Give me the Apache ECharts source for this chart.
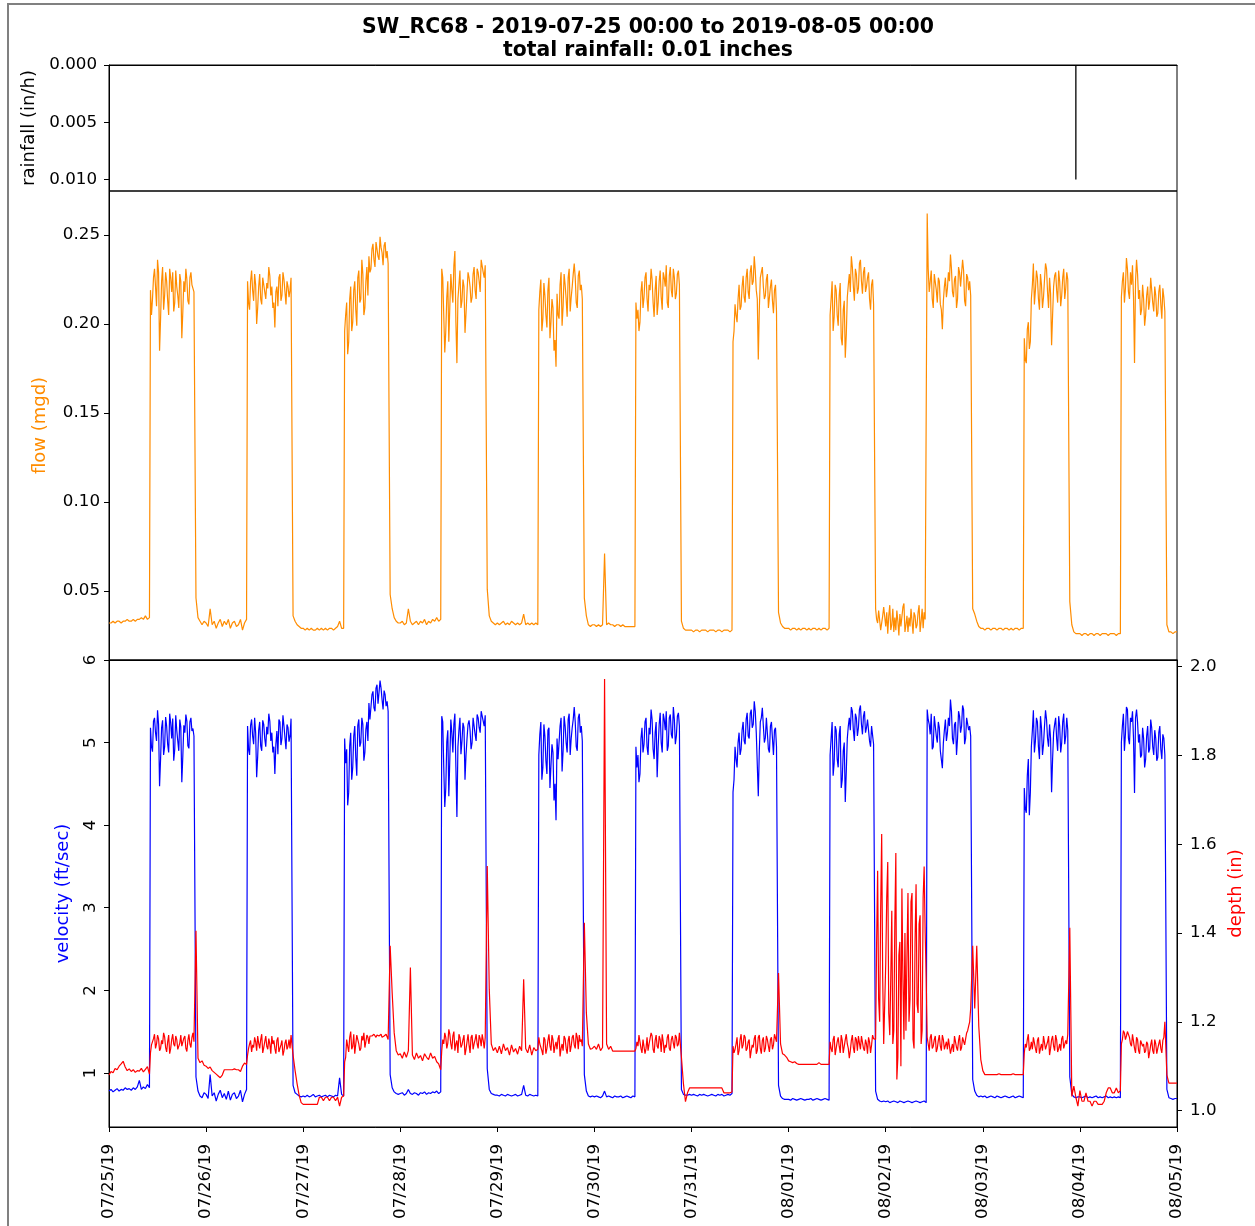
<!DOCTYPE html>
<html><head><meta charset="utf-8">
<script src="https://cdn.jsdelivr.net/npm/echarts@6/dist/echarts.min.js"></script>
<style>html,body{margin:0;padding:0;background:#fff}#c{width:1255px;height:1226px}</style>
</head><body><div id="c"></div>
<script>
const titleLine1 = 'SW_RC68 - 2019-07-25 00:00 to 2019-08-05 00:00';
const titleLine2 = 'total rainfall: 0.01 inches';
const xTickHours = [0,24,48,72,96,120,144,168,192,216,240,264];
const xTickLabels = ['07/25/19','07/26/19','07/27/19','07/28/19','07/29/19','07/30/19','07/31/19','08/01/19','08/02/19','08/03/19','08/04/19','08/05/19'];
const rainTicks = [0, 0.005, 0.010];
const flowTicks = [0.05, 0.10, 0.15, 0.20, 0.25];
const velocityTicks = [1, 2, 3, 4, 5, 6];
const depthTicks = [1.0, 1.2, 1.4, 1.6, 1.8, 2.0];

// rainfall (in/h): hour since 07/25 00:00
const rainHours = [239];
const rainValues = [0.01];

// One row per day. *Low: samples spread evenly over 00:00-10:00. *High: 10:15-21:00 every 15 min.
// *Tail: samples spread evenly over 21:30-23:30.
const flowLow = [
 [0.032,0.032,0.033,0.032,0.033,0.033,0.032,0.033,0.033,0.034,0.033,0.033,0.034,0.033,0.034,0.034,0.035,0.034,0.036,0.034,0.035],
 [0.032,0.030,0.040,0.031,0.033,0.029,0.032,0.034,0.030,0.033,0.031,0.034,0.029,0.032,0.033,0.030,0.031,0.034,0.028,0.032,0.034],
 [0.029,0.028,0.029,0.028,0.029,0.028,0.028,0.029,0.028,0.029,0.028,0.029,0.028,0.029,0.029,0.028,0.029,0.030,0.033,0.029,0.029],
 [0.032,0.033,0.031,0.032,0.040,0.033,0.031,0.032,0.033,0.031,0.033,0.032,0.034,0.031,0.033,0.032,0.034,0.033,0.035,0.033,0.034],
 [0.032,0.031,0.032,0.033,0.031,0.032,0.031,0.033,0.032,0.031,0.032,0.031,0.032,0.037,0.031,0.032,0.031,0.032,0.031,0.032,0.031],
 [0.031,0.030,0.031,0.030,0.031,0.071,0.031,0.032,0.031,0.031,0.030,0.031,0.031,0.030,0.031,0.030,0.030,0.030,0.030,0.030,0.030],
 [0.028,0.027,0.028,0.028,0.027,0.028,0.028,0.028,0.027,0.028,0.028,0.028,0.027,0.028,0.028,0.027,0.028,0.028,0.028,0.027,0.028],
 [0.029,0.028,0.029,0.029,0.028,0.029,0.028,0.029,0.029,0.028,0.029,0.028,0.029,0.029,0.028,0.029,0.028,0.029,0.029,0.028,0.029],
 [0.030,0.038,0.026,0.036,0.042,0.028,0.031,0.040,0.027,0.035,0.028,0.039,0.033,0.025,0.037,0.030,0.029,0.041,0.043,0.027,0.031,
  0.036,0.027,0.035,0.030,0.040,0.033,0.026,0.038,0.036,0.029,0.031,0.038,0.042,0.027,0.033,0.040,0.029,0.038,0.034,0.033],
 [0.029,0.028,0.029,0.029,0.028,0.029,0.029,0.028,0.029,0.029,0.028,0.029,0.029,0.028,0.029,0.028,0.029,0.029,0.028,0.029,0.029],
 [0.026,0.025,0.026,0.026,0.025,0.026,0.026,0.025,0.026,0.026,0.025,0.026,0.026,0.026,0.025,0.026,0.026,0.026,0.025,0.026,0.026]
];
const flowHigh = [
 [0.219,0.205,0.214,0.226,0.231,0.221,0.210,0.236,0.229,0.185,0.203,0.224,0.232,0.208,0.216,0.229,0.224,0.213,0.205,0.231,0.226,0.218,0.229,0.207,0.212,0.230,0.221,0.216,0.209,0.228,0.224,0.192,0.207,0.224,0.218,0.231,0.225,0.213,0.211,0.226,0.229,0.222,0.223,0.218],
 [0.224,0.212,0.208,0.224,0.230,0.219,0.213,0.228,0.222,0.200,0.209,0.221,0.228,0.214,0.211,0.226,0.225,0.218,0.214,0.223,0.220,0.232,0.227,0.216,0.221,0.209,0.212,0.198,0.218,0.221,0.210,0.226,0.228,0.213,0.216,0.229,0.225,0.218,0.211,0.224,0.221,0.215,0.219,0.226],
 [0.196,0.205,0.212,0.183,0.190,0.214,0.221,0.196,0.201,0.219,0.224,0.208,0.199,0.226,0.230,0.212,0.214,0.236,0.228,0.205,0.209,0.224,0.232,0.216,0.238,0.229,0.231,0.242,0.245,0.236,0.232,0.246,0.247,0.238,0.236,0.249,0.243,0.240,0.233,0.244,0.246,0.237,0.241,0.234],
 [0.231,0.226,0.205,0.184,0.196,0.215,0.224,0.190,0.210,0.228,0.219,0.212,0.233,0.241,0.201,0.178,0.214,0.222,0.230,0.209,0.213,0.225,0.221,0.195,0.206,0.218,0.229,0.226,0.221,0.212,0.215,0.228,0.232,0.219,0.214,0.231,0.229,0.224,0.218,0.236,0.235,0.229,0.226,0.233],
 [0.208,0.218,0.225,0.196,0.203,0.223,0.216,0.205,0.198,0.219,0.226,0.192,0.201,0.214,0.209,0.185,0.191,0.176,0.217,0.205,0.203,0.222,0.229,0.199,0.210,0.228,0.222,0.214,0.204,0.226,0.231,0.207,0.215,0.221,0.228,0.234,0.226,0.212,0.209,0.227,0.230,0.219,0.222,0.214],
 [0.212,0.203,0.208,0.196,0.201,0.218,0.224,0.209,0.215,0.226,0.229,0.214,0.207,0.222,0.219,0.231,0.225,0.212,0.204,0.219,0.227,0.205,0.212,0.224,0.230,0.215,0.208,0.229,0.226,0.221,0.233,0.212,0.209,0.227,0.232,0.219,0.215,0.231,0.226,0.214,0.217,0.228,0.230,0.222],
 [0.190,0.196,0.211,0.205,0.201,0.214,0.222,0.208,0.210,0.221,0.227,0.215,0.212,0.226,0.231,0.218,0.214,0.229,0.233,0.222,0.224,0.238,0.230,0.219,0.214,0.180,0.208,0.226,0.227,0.232,0.221,0.214,0.216,0.225,0.228,0.209,0.210,0.221,0.225,0.213,0.206,0.219,0.222,0.207],
 [0.205,0.214,0.224,0.196,0.204,0.222,0.219,0.205,0.199,0.216,0.223,0.192,0.188,0.208,0.213,0.181,0.194,0.215,0.222,0.228,0.218,0.238,0.232,0.221,0.213,0.231,0.228,0.217,0.220,0.234,0.236,0.224,0.217,0.229,0.232,0.218,0.221,0.226,0.229,0.214,0.208,0.222,0.225,0.211],
 [0.262,0.231,0.218,0.224,0.230,0.214,0.209,0.228,0.228,0.219,0.212,0.226,0.224,0.211,0.208,0.197,0.213,0.221,0.226,0.215,0.220,0.229,0.224,0.239,0.231,0.218,0.215,0.225,0.227,0.209,0.214,0.232,0.229,0.221,0.222,0.236,0.230,0.213,0.210,0.228,0.226,0.219,0.224,0.216],
 [0.192,0.180,0.178,0.197,0.201,0.186,0.190,0.214,0.222,0.234,0.211,0.219,0.230,0.226,0.214,0.208,0.228,0.222,0.209,0.215,0.225,0.234,0.231,0.218,0.209,0.226,0.217,0.188,0.205,0.221,0.227,0.229,0.219,0.212,0.230,0.224,0.210,0.216,0.226,0.231,0.214,0.220,0.229,0.225],
 [0.215,0.224,0.229,0.212,0.220,0.237,0.231,0.218,0.214,0.229,0.222,0.233,0.215,0.178,0.224,0.236,0.228,0.214,0.219,0.205,0.208,0.222,0.214,0.199,0.205,0.216,0.221,0.208,0.213,0.226,0.219,0.212,0.207,0.221,0.216,0.204,0.206,0.218,0.222,0.211,0.203,0.220,0.215,0.207]
];
const flowTail = [
 [0.046,0.035,0.033,0.031,0.033],
 [0.036,0.033,0.031,0.030,0.029],
 [0.048,0.040,0.035,0.033,0.032],
 [0.051,0.036,0.033,0.032,0.031],
 [0.046,0.036,0.031,0.030,0.031],
 [0.033,0.029,0.028,0.028,0.028],
 [0.038,0.032,0.030,0.029,0.029],
 [0.040,0.034,0.032,0.039,0.038,0.028,0.027,0.036,0.041],
 [0.040,0.037,0.033,0.030,0.029],
 [0.044,0.031,0.027,0.026,0.026],
 [0.031,0.027,0.027,0.026,0.027]
];
const flowEnd = [0.027];

const velocityLow = [
 [0.78,0.80,0.77,0.79,0.81,0.78,0.80,0.79,0.82,0.80,0.81,0.79,0.82,0.80,0.83,0.91,0.80,0.83,0.81,0.86,0.82],
 [0.74,0.69,0.98,0.72,0.76,0.66,0.74,0.79,0.70,0.75,0.68,0.78,0.67,0.74,0.76,0.69,0.72,0.79,0.65,0.74,0.80],
 [0.72,0.71,0.73,0.71,0.72,0.74,0.71,0.72,0.73,0.71,0.72,0.73,0.71,0.73,0.72,0.71,0.73,0.72,0.94,0.74,0.72],
 [0.75,0.76,0.73,0.75,0.80,0.75,0.74,0.76,0.75,0.73,0.76,0.75,0.77,0.74,0.76,0.75,0.77,0.76,0.78,0.75,0.77],
 [0.73,0.72,0.74,0.73,0.72,0.74,0.73,0.72,0.73,0.74,0.72,0.73,0.74,0.85,0.73,0.72,0.74,0.73,0.72,0.73,0.72],
 [0.71,0.72,0.71,0.70,0.72,0.78,0.71,0.72,0.71,0.70,0.72,0.71,0.71,0.72,0.70,0.71,0.72,0.71,0.70,0.72,0.71],
 [0.73,0.74,0.73,0.72,0.74,0.73,0.74,0.73,0.72,0.73,0.74,0.73,0.72,0.74,0.73,0.74,0.72,0.73,0.74,0.73,0.75],
 [0.68,0.67,0.69,0.68,0.67,0.68,0.69,0.68,0.67,0.68,0.68,0.69,0.67,0.68,0.69,0.68,0.67,0.68,0.69,0.68,0.67],
 [0.65,0.66,0.64,0.65,0.66,0.65,0.64,0.66,0.65,0.64,0.65,0.66,0.65,0.64,0.65,0.66,0.65,0.64,0.65,0.66,0.64],
 [0.71,0.72,0.70,0.71,0.72,0.71,0.70,0.72,0.71,0.70,0.71,0.72,0.71,0.70,0.71,0.72,0.70,0.71,0.72,0.71,0.70],
 [0.71,0.70,0.71,0.72,0.70,0.71,0.70,0.71,0.72,0.70,0.71,0.70,0.71,0.72,0.70,0.71,0.70,0.71,0.70,0.71,0.70]
];
const velocityHigh = [
 [5.18,4.95,4.89,5.26,5.30,5.12,5.02,5.39,5.22,4.47,4.80,5.18,5.27,4.85,4.95,5.31,5.20,4.98,4.88,5.35,5.24,5.05,5.29,4.78,4.92,5.33,5.15,5.02,4.90,5.28,5.19,4.52,4.84,5.21,5.12,5.34,5.26,4.96,4.93,5.25,5.30,5.14,5.17,5.08],
 [5.20,4.92,4.85,5.21,5.28,5.08,4.98,5.30,5.12,4.58,4.83,5.15,5.25,4.96,4.90,5.27,5.22,5.05,4.95,5.19,5.10,5.35,5.26,5.02,5.12,4.88,4.95,4.62,4.98,5.14,4.86,5.28,5.25,4.97,5.05,5.33,5.20,5.06,4.92,5.22,5.18,5.01,5.08,5.29],
 [5.05,4.75,4.92,4.24,4.40,4.96,5.12,4.55,4.70,5.08,5.20,4.82,4.60,5.21,5.28,4.95,5.00,5.30,5.22,4.78,4.88,5.16,5.25,5.02,5.48,5.28,5.30,5.58,5.62,5.42,5.38,5.66,5.70,5.47,5.45,5.75,5.66,5.52,5.40,5.63,5.58,5.44,5.50,5.38],
 [5.32,5.25,4.70,4.22,4.45,5.01,5.15,4.35,4.80,5.28,5.12,4.88,5.22,5.35,4.70,4.10,4.95,5.15,5.30,4.86,5.02,5.24,5.18,4.55,4.85,5.05,5.22,5.27,5.15,4.92,5.00,5.30,5.28,5.10,5.02,5.34,5.30,5.18,5.12,5.38,5.36,5.26,5.20,5.33],
 [4.85,5.10,5.25,4.55,4.70,5.22,5.08,4.78,4.62,5.15,5.18,4.45,4.72,4.98,4.88,4.30,4.50,4.06,5.05,4.80,4.78,5.20,5.30,4.65,4.90,5.32,5.20,5.00,4.88,5.28,5.35,4.85,5.05,5.18,5.28,5.43,5.25,4.95,4.90,5.30,5.35,5.12,5.20,5.02],
 [4.95,4.70,4.85,4.52,4.62,5.05,5.18,4.88,4.98,5.25,5.30,4.95,4.85,5.18,5.10,5.40,5.28,4.92,4.80,5.12,5.25,4.58,4.95,5.22,5.36,5.00,4.88,5.35,5.28,5.15,5.38,4.90,4.96,5.30,5.34,5.10,5.05,5.43,5.28,4.98,5.08,5.32,5.36,5.20],
 [4.40,4.55,4.95,4.80,4.70,5.00,5.12,4.85,4.92,5.15,5.25,5.02,4.98,5.28,5.36,5.08,5.05,5.35,5.40,5.18,5.22,5.50,5.38,5.12,5.10,4.35,4.90,5.25,5.30,5.42,5.20,5.00,5.06,5.30,5.32,4.92,4.88,5.20,5.25,5.05,4.85,5.15,5.18,4.95],
 [4.85,5.05,5.25,4.60,4.75,5.20,5.15,4.80,4.70,5.10,5.20,4.45,4.55,4.90,5.00,4.28,4.65,5.05,5.20,5.30,5.15,5.43,5.38,5.15,5.02,5.35,5.30,5.08,5.18,5.40,5.45,5.22,5.10,5.32,5.38,5.12,5.18,5.28,5.30,5.02,4.95,5.20,5.22,4.98],
 [5.40,5.28,5.22,5.10,5.35,4.92,4.95,5.32,5.30,5.08,5.00,5.25,5.18,4.90,4.92,4.69,5.00,5.15,5.28,5.02,5.12,5.30,5.20,5.52,5.38,5.05,4.98,5.22,5.25,4.85,5.05,5.38,5.32,5.12,5.20,5.45,5.40,4.98,5.05,5.30,5.28,5.15,5.20,5.08],
 [4.45,4.20,4.15,4.60,4.80,4.12,4.40,4.95,5.15,5.39,4.88,5.02,5.30,5.25,4.95,4.80,5.32,5.18,4.85,4.98,5.20,5.39,5.28,5.05,4.95,5.22,5.05,4.40,4.80,5.12,5.22,5.30,5.05,4.90,5.32,5.20,4.88,5.00,5.25,5.35,4.98,5.08,5.30,5.15],
 [5.00,5.20,5.35,4.90,5.10,5.43,5.40,5.05,4.98,5.30,5.25,5.38,5.05,4.39,5.30,5.40,5.25,5.00,5.10,4.82,4.85,5.18,5.05,4.70,4.80,5.08,5.20,4.88,4.92,5.28,5.18,4.95,4.85,5.15,5.05,4.78,4.82,5.12,5.20,4.92,4.80,5.10,5.05,4.85]
];
const velocityTail = [
 [0.95,0.78,0.72,0.70,0.76],
 [0.85,0.76,0.74,0.72,0.71],
 [0.98,0.82,0.77,0.75,0.74],
 [1.05,0.80,0.75,0.74,0.73],
 [0.98,0.78,0.72,0.71,0.72],
 [0.80,0.74,0.73,0.73,0.74],
 [0.85,0.72,0.69,0.68,0.68],
 [0.78,0.68,0.66,0.65,0.66],
 [0.92,0.78,0.73,0.71,0.72],
 [0.95,0.74,0.71,0.70,0.71],
 [0.80,0.70,0.69,0.68,0.69]
];
const velocityEnd = [0.69];

const depthLow = [
 [1.080,1.088,1.085,1.095,1.092,1.100,1.105,1.111,1.098,1.090,1.094,1.088,1.092,1.086,1.090,1.089,1.095,1.087,1.093,1.099,1.082],
 [1.100,1.095,1.098,1.090,1.086,1.082,1.078,1.074,1.080,1.092,1.092,1.092,1.092,1.092,1.094,1.092,1.092,1.088,1.100,1.107,1.104],
 [1.014,1.014,1.014,1.014,1.014,1.014,1.014,1.014,1.030,1.030,1.022,1.030,1.030,1.022,1.030,1.030,1.022,1.030,1.010,1.030,1.033],
 [1.128,1.118,1.132,1.120,1.135,1.322,1.125,1.115,1.130,1.118,1.124,1.112,1.128,1.120,1.115,1.130,1.118,1.122,1.110,1.105,1.092],
 [1.130,1.145,1.128,1.150,1.135,1.142,1.125,1.148,1.132,1.140,1.127,1.145,1.135,1.296,1.140,1.130,1.148,1.125,1.142,1.135,1.138],
 [1.145,1.138,1.150,1.135,1.142,1.972,1.150,1.138,1.145,1.134,1.134,1.134,1.134,1.134,1.134,1.134,1.134,1.134,1.134,1.134,1.134],
 [1.051,1.051,1.051,1.051,1.051,1.051,1.051,1.051,1.051,1.051,1.051,1.051,1.051,1.051,1.051,1.051,1.040,1.040,1.040,1.040,1.042],
 [1.112,1.110,1.108,1.110,1.106,1.104,1.104,1.104,1.104,1.104,1.104,1.104,1.104,1.104,1.104,1.108,1.104,1.104,1.104,1.104,1.104],
 [1.330,1.480,1.560,1.220,1.170,1.300,1.450,1.150,1.180,1.420,1.580,1.070,1.120,1.350,1.380,1.100,1.500,1.300,1.160,1.400,1.180,
  1.350,1.490,1.200,1.250,1.470,1.490,1.160,1.140,1.380,1.510,1.240,1.220,1.420,1.440,1.150,1.180,1.480,1.550,1.400,1.300],
 [1.090,1.081,1.081,1.081,1.081,1.081,1.081,1.081,1.083,1.081,1.081,1.081,1.081,1.081,1.081,1.083,1.081,1.081,1.081,1.081,1.081],
 [1.045,1.021,1.021,1.040,1.021,1.021,1.010,1.021,1.021,1.014,1.014,1.014,1.021,1.040,1.051,1.051,1.040,1.040,1.051,1.040,1.045]
];
const depthHigh = [
 [1.130,1.148,1.145,1.162,1.172,1.140,1.150,1.170,1.162,1.135,1.140,1.158,1.150,1.175,1.166,1.142,1.132,1.155,1.170,1.128,1.140,1.160,1.172,1.150,1.145,1.168,1.160,1.138,1.135,1.152,1.170,1.145,1.142,1.163,1.168,1.140,1.133,1.158,1.172,1.150,1.142,1.165,1.175,1.155],
 [1.125,1.140,1.150,1.158,1.132,1.148,1.142,1.165,1.155,1.135,1.168,1.152,1.140,1.160,1.172,1.130,1.142,1.155,1.168,1.145,1.138,1.162,1.150,1.128,1.168,1.150,1.158,1.140,1.128,1.158,1.165,1.132,1.140,1.148,1.158,1.124,1.135,1.152,1.160,1.138,1.145,1.160,1.140,1.170],
 [1.110,1.120,1.160,1.145,1.132,1.165,1.178,1.138,1.145,1.172,1.128,1.150,1.170,1.160,1.150,1.135,1.140,1.168,1.158,1.175,1.142,1.155,1.170,1.165,1.150,1.168,1.172,1.168,1.165,1.172,1.168,1.165,1.170,1.168,1.168,1.170,1.172,1.165,1.168,1.168,1.165,1.172,1.168,1.160],
 [1.135,1.160,1.150,1.175,1.165,1.140,1.152,1.183,1.172,1.150,1.138,1.168,1.178,1.135,1.150,1.158,1.130,1.172,1.165,1.142,1.148,1.160,1.170,1.125,1.138,1.155,1.172,1.148,1.130,1.165,1.170,1.138,1.150,1.160,1.172,1.150,1.140,1.170,1.162,1.145,1.172,1.158,1.140,1.165],
 [1.165,1.150,1.148,1.135,1.125,1.165,1.160,1.128,1.140,1.158,1.172,1.145,1.135,1.170,1.160,1.130,1.145,1.155,1.138,1.162,1.170,1.122,1.140,1.150,1.135,1.168,1.162,1.140,1.128,1.158,1.168,1.132,1.145,1.165,1.170,1.148,1.140,1.175,1.165,1.138,1.170,1.155,1.160,1.145],
 [1.140,1.155,1.145,1.170,1.172,1.140,1.130,1.160,1.162,1.128,1.140,1.165,1.135,1.150,1.148,1.175,1.168,1.138,1.130,1.158,1.170,1.145,1.140,1.168,1.160,1.132,1.172,1.155,1.130,1.148,1.142,1.165,1.172,1.140,1.135,1.160,1.168,1.152,1.140,1.170,1.165,1.145,1.150,1.175],
 [1.145,1.130,1.138,1.150,1.165,1.125,1.135,1.160,1.172,1.140,1.148,1.170,1.165,1.135,1.140,1.155,1.160,1.118,1.135,1.148,1.142,1.162,1.170,1.128,1.135,1.165,1.170,1.140,1.128,1.158,1.165,1.132,1.140,1.168,1.160,1.145,1.132,1.160,1.165,1.138,1.148,1.172,1.170,1.155],
 [1.155,1.140,1.132,1.160,1.168,1.125,1.140,1.155,1.165,1.145,1.130,1.170,1.158,1.130,1.145,1.160,1.172,1.150,1.140,1.118,1.135,1.158,1.170,1.142,1.130,1.165,1.160,1.135,1.168,1.152,1.138,1.168,1.172,1.140,1.135,1.160,1.150,1.128,1.165,1.155,1.130,1.148,1.170,1.162],
 [1.165,1.150,1.135,1.165,1.172,1.140,1.145,1.160,1.168,1.132,1.140,1.158,1.170,1.145,1.135,1.170,1.160,1.138,1.140,1.155,1.138,1.162,1.165,1.128,1.140,1.150,1.132,1.168,1.165,1.142,1.135,1.158,1.170,1.135,1.142,1.165,1.168,1.148,1.150,1.175,1.180,1.190,1.200,1.230],
 [1.130,1.150,1.142,1.160,1.172,1.135,1.140,1.155,1.138,1.165,1.168,1.140,1.130,1.158,1.165,1.128,1.140,1.150,1.135,1.168,1.165,1.138,1.142,1.155,1.168,1.125,1.140,1.160,1.168,1.145,1.135,1.170,1.160,1.132,1.140,1.150,1.135,1.162,1.168,1.140,1.140,1.158,1.150,1.172],
 [1.150,1.160,1.180,1.175,1.160,1.168,1.178,1.180,1.165,1.150,1.145,1.172,1.168,1.140,1.130,1.165,1.160,1.135,1.128,1.158,1.162,1.145,1.150,1.130,1.135,1.155,1.150,1.118,1.132,1.148,1.160,1.135,1.128,1.160,1.150,1.128,1.140,1.150,1.160,1.140,1.130,1.158,1.165,1.200]
];
const depthTail = [
 [1.405,1.118,1.108,1.112,1.102],
 [1.125,1.090,1.060,1.035,1.018],
 [1.371,1.265,1.175,1.135,1.125],
 [1.551,1.273,1.150,1.135,1.142],
 [1.423,1.220,1.150,1.138,1.140],
 [1.120,1.060,1.020,1.040,1.051],
 [1.310,1.150,1.128,1.125,1.120],
 [1.160,1.380,1.540,1.250,1.200,1.450,1.623,1.300,1.150],
 [1.371,1.230,1.371,1.190,1.115],
 [1.412,1.032,1.055,1.030,1.010],
 [1.080,1.062,1.062,1.062,1.062]
];
const depthEnd = [1.062];

// sample times (hours) come from each row's own length over its time window
function buildSeries(low, high, tail, end) {
  const out = [];
  for (let d = 0; d < low.length; d++) {
    const nl = low[d].length, nt = tail[d].length;
    low[d].forEach((v, k) => out.push([d * 24 + k * 10 / (nl - 1), v]));
    high[d].forEach((v, k) => out.push([d * 24 + 10.25 + k * 0.25, v]));
    tail[d].forEach((v, k) => out.push([d * 24 + 21.5 + k * 2 / (nt - 1), v]));
  }
  end.forEach(v => out.push([low.length * 24, v]));
  return out;
}

const FONT = 'DejaVu Sans';
const TICK_FS = 16.7;
const NAME_FS = 18;
const chart = echarts.init(document.getElementById('c'), null, {renderer: 'canvas'});
const baseTick = {show: true, length: 5, inside: false, lineStyle: {color: '#000', width: 1}};
const baseLine = {show: true, lineStyle: {color: '#000', width: 1}};
const labelStyle = {fontFamily: FONT, fontSize: TICK_FS, color: '#000'};

function hiddenX(gi) {
  return {type: 'value', gridIndex: gi, min: 0, max: 264, axisLine: baseLine,
    axisTick: {show: false}, axisLabel: {show: false}, splitLine: {show: false}};
}

chart.setOption({
  animation: false,
  backgroundColor: '#fff',
  title: {
    text: titleLine1 + '\n' + titleLine2,
    left: 643, top: 11, textAlign: 'center',
    textStyle: {fontFamily: FONT, fontSize: 20.4, fontWeight: 'bold', color: '#000', lineHeight: 23}
  },
  graphic: [{
    type: 'rect', shape: {x: 8, y: 4, width: 1400, height: 1400},
    style: {fill: 'none', stroke: '#808080', lineWidth: 2}, silent: true
  }],
  grid: [
    {left: 109, right: 78, top: 65, height: 126, show: true, borderColor: '#000', borderWidth: 1},
    {left: 109, right: 78, top: 191, height: 469, show: true, borderColor: '#000', borderWidth: 1},
    {left: 109, right: 78, top: 660, height: 467, show: true, borderColor: '#000', borderWidth: 1}
  ],
  xAxis: [
    hiddenX(0),
    hiddenX(1),
    {type: 'value', gridIndex: 2, min: 0, max: 264, axisLine: baseLine,
     axisTick: Object.assign({}, baseTick, {customValues: xTickHours}),
     axisLabel: Object.assign({}, labelStyle, {customValues: xTickHours, rotate: 90, margin: 17,
       formatter: v => xTickLabels[Math.round(v / 24)]}),
     splitLine: {show: false}}
  ],
  yAxis: [
    {type: 'value', gridIndex: 0, min: 0, max: 0.011, inverse: true,
     name: 'rainfall (in/h)', nameLocation: 'middle', nameGap: 68,
     nameTextStyle: {fontFamily: FONT, fontSize: NAME_FS, color: '#000'},
     axisLine: baseLine, axisTick: Object.assign({}, baseTick, {customValues: rainTicks}),
     axisLabel: Object.assign({}, labelStyle, {customValues: rainTicks, margin: 12, formatter: v => v.toFixed(3)}),
     splitLine: {show: false}},
    {type: 'value', gridIndex: 1, min: 0.0112, max: 0.2747,
     name: 'flow (mgd)', nameLocation: 'middle', nameGap: 60,
     nameTextStyle: {fontFamily: FONT, fontSize: NAME_FS, color: '#ff8c00'},
     axisLine: baseLine, axisTick: Object.assign({}, baseTick, {customValues: flowTicks}),
     axisLabel: Object.assign({}, labelStyle, {customValues: flowTicks, margin: 9, formatter: v => v.toFixed(2)}),
     splitLine: {show: false}},
    {type: 'value', gridIndex: 2, min: 0.345, max: 6,
     name: 'velocity (ft/sec)', nameLocation: 'middle', nameGap: 37,
     nameTextStyle: {fontFamily: FONT, fontSize: NAME_FS, color: '#0000ff'},
     axisLine: baseLine, axisTick: Object.assign({}, baseTick, {customValues: velocityTicks}),
     axisLabel: Object.assign({}, labelStyle, {customValues: velocityTicks, margin: 10, rotate: 90, formatter: v => String(Math.round(v))}),
     splitLine: {show: false}},
    {type: 'value', gridIndex: 2, position: 'right', min: 0.963, max: 2.015,
     name: 'depth (in)', nameLocation: 'middle', nameGap: 49,
     nameTextStyle: {fontFamily: FONT, fontSize: NAME_FS, color: '#ff0000'},
     axisLine: baseLine, axisTick: Object.assign({}, baseTick, {customValues: depthTicks}),
     axisLabel: Object.assign({}, labelStyle, {customValues: depthTicks, margin: 13, formatter: v => v.toFixed(1)}),
     splitLine: {show: false}}
  ],
  series: [
    {type: 'bar', xAxisIndex: 0, yAxisIndex: 0, barWidth: 1.3,
     itemStyle: {color: '#000'}, data: rainHours.map((h, i) => [h, rainValues[i]])},
    {type: 'line', xAxisIndex: 1, yAxisIndex: 1, showSymbol: false, symbol: 'none',
     lineStyle: {color: '#ff8c00', width: 1.2}, data: buildSeries(flowLow, flowHigh, flowTail, flowEnd)},
    {type: 'line', xAxisIndex: 2, yAxisIndex: 2, showSymbol: false, symbol: 'none', z: 2,
     lineStyle: {color: '#0000ff', width: 1.2}, data: buildSeries(velocityLow, velocityHigh, velocityTail, velocityEnd)},
    {type: 'line', xAxisIndex: 2, yAxisIndex: 3, showSymbol: false, symbol: 'none', z: 3,
     lineStyle: {color: '#ff0000', width: 1.2}, data: buildSeries(depthLow, depthHigh, depthTail, depthEnd)}
  ]
});
</script>
</body></html>
